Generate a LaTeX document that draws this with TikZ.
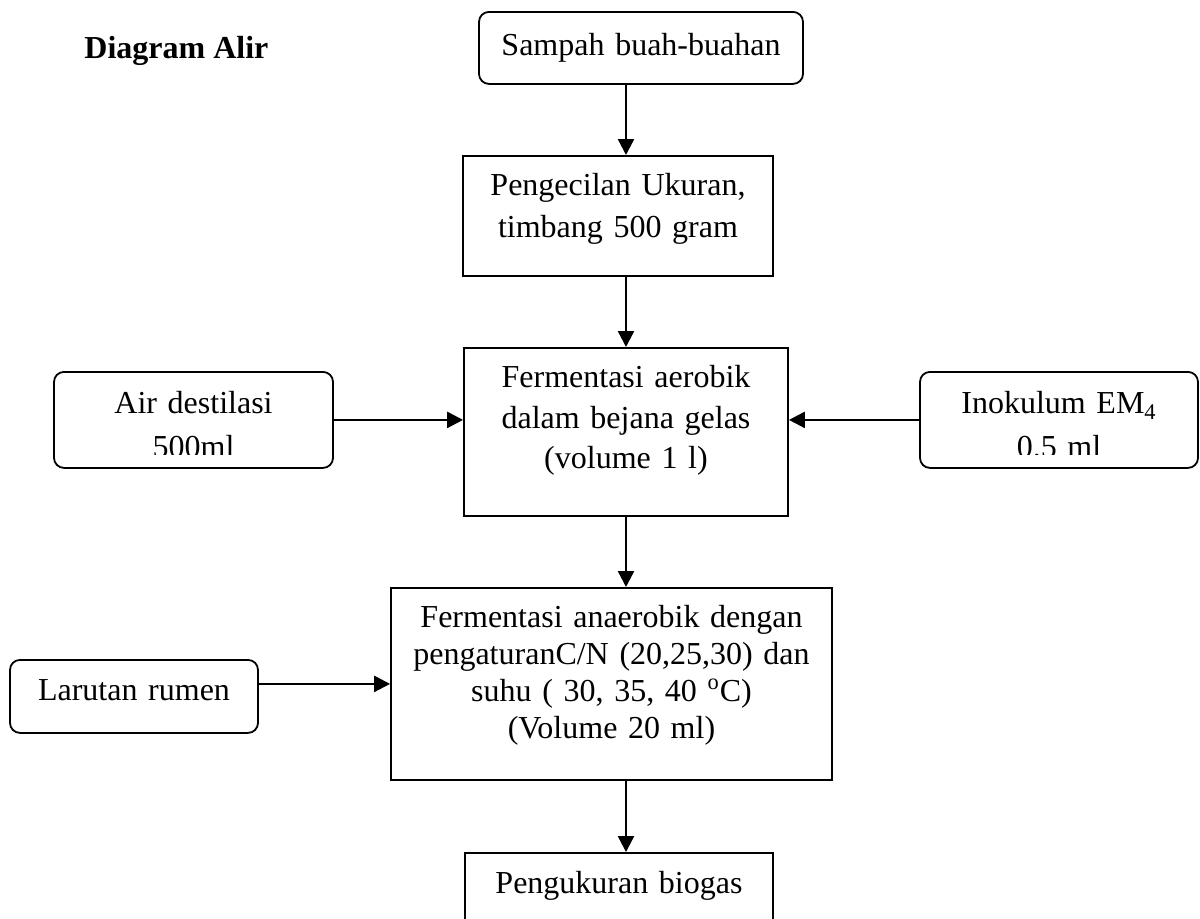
\documentclass[tikz,border=0pt]{standalone}
\usepackage{fontspec}
\setmainfont{Liberation Serif}
\usetikzlibrary{arrows.meta}
\tikzset{
  kotak/.style={draw, line width=0.9pt, inner sep=0pt, anchor=north, align=center,
    font=\fontsize{16pt}{20.25pt}\selectfont},
  kotakbulat/.style={kotak, rounded corners=5pt},
  panah/.style={-{Triangle[width=8pt,length=8pt]}, line width=1.2pt}
}
\begin{document}
\begin{tikzpicture}[x=0.5pt, y=-0.5pt]
\useasboundingbox (0,0) rectangle (1200,918);
\clip (0,0) rectangle (1200,918);
% Judul
\node[anchor=base west, inner sep=0pt, font=\fontsize{16pt}{20pt}\selectfont\bfseries] (judul) at (84,58) {Diagram Alir};
% Alur utama
\node[kotakbulat, text width=162pt, text height=22pt, text depth=14pt] (sampah) at (641,11) {Sampah buah-buahan};
\node[kotak, text width=155pt, text height=20pt, text depth=40pt, font=\fontsize{16pt}{21pt}\selectfont] (kecil) at (618,155) {Pengecilan Ukuran,\\timbang 500 gram};
\node[kotak, text width=162pt, text height=20pt, text depth=64pt] (aerob) at (626,347) {Fermentasi aerobik\\dalam bejana gelas\\(volume 1 l)};
\node[kotak, text width=220.5pt, text height=20pt, text depth=76pt, font=\fontsize{16pt}{18.5pt}\selectfont] (anaerob) at (611.5,587) {Fermentasi anaerobik dengan\\pengaturanC/N (20,25,30) dan\\suhu ( 30, 35, 40 \textsuperscript{o}C)\\(Volume 20 ml)};
\node[kotak, text width=154pt, text height=20.5pt, text depth=50pt] (ukur) at (619,852) {Pengukuran biogas};
% Bahan tambahan
\node[kotakbulat, text width=139.5pt, text height=21pt, text depth=27pt, font=\fontsize{16pt}{22pt}\selectfont] (air) at (193.5,371) {Air destilasi\\500ml};
\node[kotakbulat, text width=139pt, text height=21pt, text depth=27pt, font=\fontsize{16pt}{22pt}\selectfont] (inokulum) at (1059,371) {Inokulum EM\textsubscript{4}\\0.5 ml};
\node[kotakbulat, text width=124pt, text height=20.5pt, text depth=16pt] (rumen) at (134,659) {Larutan rumen};
% teks baris kedua terpotong di bawah
\fill[white] (140,455) rectangle (245,465);
\fill[white] (1005,455) rectangle (1115,465);
% Panah
\draw[panah] (sampah.south -| aerob.north) -- (kecil.north -| aerob.north);
\draw[panah] (kecil.south -| aerob.north) -- (aerob.north);
\draw[panah] (air.east) -- (air.east -| aerob.west);
\draw[panah] (inokulum.west) -- (inokulum.west -| aerob.east);
\draw[panah] (aerob.south) -- (aerob.south |- anaerob.north);
\draw[panah] (anaerob.west -| rumen.east) -- (anaerob.west);
\draw[panah] (anaerob.south -| aerob.south) -- (ukur.north -| aerob.south);
\end{tikzpicture}
\end{document}
